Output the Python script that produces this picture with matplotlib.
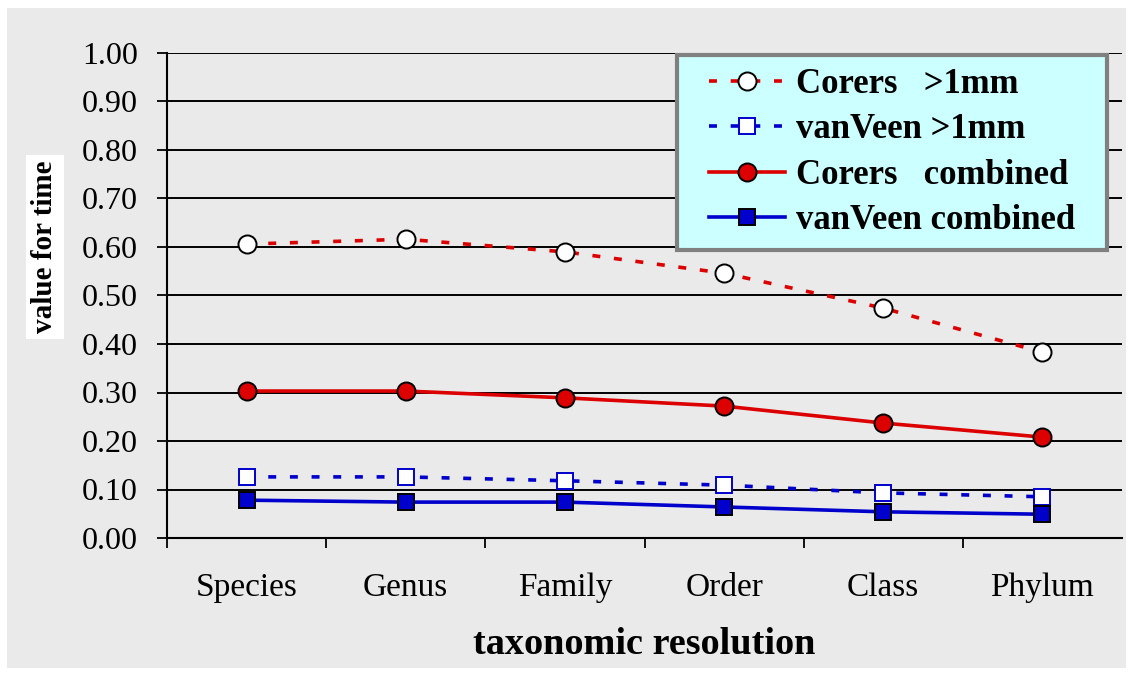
import matplotlib.pyplot as plt
import matplotlib.patches as patches

categories = ['Species', 'Genus', 'Family', 'Order', 'Class', 'Phylum']
corers_1mm = [0.606, 0.616, 0.590, 0.546, 0.474, 0.383]
vanveen_1mm = [0.126, 0.126, 0.118, 0.109, 0.093, 0.085]
corers_comb = [0.303, 0.303, 0.289, 0.272, 0.237, 0.208]
vanveen_comb = [0.078, 0.074, 0.074, 0.064, 0.054, 0.049]
yticks = [i / 10 for i in range(11)]

red = '#dd0000'
blue = '#0000cc'
panel = '#eaeaea'

plt.rcParams['font.family'] = ['Liberation Serif', 'DejaVu Serif']

fig = plt.figure(figsize=(11.33, 6.75), dpi=100)
fig.patch.set_facecolor('white')
fig.patches.append(patches.Rectangle((7 / 1133, 1 - 668 / 675), 1119 / 1133, 660 / 675,
                                     transform=fig.transFigure, facecolor=panel,
                                     edgecolor='none', zorder=-10))

ax = fig.add_axes([167 / 1133, 1 - 538 / 675, 955 / 1133, 485 / 675])
ax.set_facecolor(panel)
x = list(range(len(categories)))

ax.plot(x, corers_1mm, color=red, lw=2.6, ls=(0, (2.2, 3.8)), marker='o', ms=13,
        mfc='white', mec='black', mew=1.4, label='Corers   >1mm', zorder=3)
ax.plot(x, vanveen_1mm, color=blue, lw=2.6, ls=(0, (2.2, 3.8)), marker='s', ms=12,
        mfc='white', mec=blue, mew=1.4, label='vanVeen >1mm', zorder=3)
ax.plot(x, corers_comb, color=red, lw=2.6, marker='o', ms=13,
        mfc=red, mec='black', mew=1.4, label='Corers   combined', zorder=4)
ax.plot(x, vanveen_comb, color=blue, lw=2.6, marker='s', ms=12,
        mfc=blue, mec='black', mew=1.4, label='vanVeen combined', zorder=4)

ax.set_xlim(-0.5, len(categories) - 0.5)
ax.set_ylim(0, 1.0)
ax.set_yticks(yticks)
ax.set_yticklabels([f'{v:.2f}' for v in yticks])
ax.set_xticks(x)
ax.set_xticklabels(categories)
ax.set_xticks([i - 0.5 for i in range(len(categories))], minor=True)
ax.tick_params(axis='x', which='major', length=0, pad=25, labelsize=24)
ax.tick_params(axis='x', which='minor', length=7, width=1.3, direction='out')
ax.tick_params(axis='y', length=7, width=1.3, direction='out', pad=14, labelsize=23)

ax.yaxis.grid(True, color='black', lw=1.4)
ax.set_axisbelow(True)
for side in ['top', 'right']:
    ax.spines[side].set_visible(False)
for side in ['left', 'bottom']:
    ax.spines[side].set_linewidth(1.5)

ax.set_xlabel('taxonomic resolution', fontsize=27.5, fontweight='bold', labelpad=17)
fig.text(45 / 1133, 1 - 247 / 675, 'value for time', rotation=90, ha='center', va='center',
         fontsize=21, fontweight='bold',
         bbox=dict(facecolor='white', edgecolor='none', pad=4))

# legend box drawn separately so it can be wider than the legend contents
box = patches.Rectangle((0.534, 0.594), 0.45, 0.402, transform=ax.transAxes,
                        facecolor='#ccffff', edgecolor='#808080', lw=3, zorder=9,
                        clip_on=False)
ax.add_patch(box)
leg = ax.legend(loc='center', bbox_to_anchor=(0.759, 0.795), borderaxespad=0,
                prop={'weight': 'bold', 'size': 25}, handlelength=2.2,
                handletextpad=0.3, labelspacing=0.36, frameon=False, borderpad=0.2)
leg.set_zorder(10)

fig.savefig('out.png', dpi=100)
